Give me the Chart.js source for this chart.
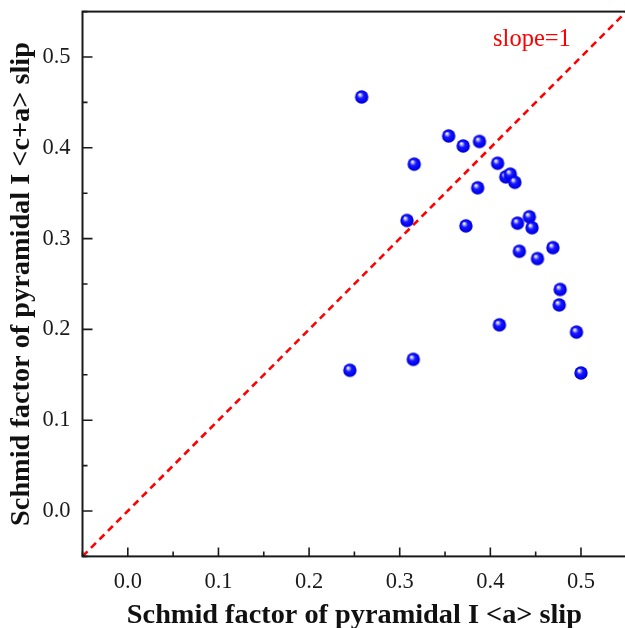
<!DOCTYPE html>
<html>
<head>
<meta charset="utf-8">
<script src="https://cdn.jsdelivr.net/npm/chart.js@4/dist/chart.umd.min.js"></script>
<style>
html,body{margin:0;padding:0;background:#fff;overflow:hidden;}
#wrap{width:634px;height:628px;position:relative;}
</style>
</head>
<body>
<div id="wrap"><canvas id="c" width="634" height="628"></canvas></div>
<script>
// ---- data ----
const xValues = [0.258,0.354,0.370,0.388,0.316,0.408,0.417,0.422,0.427,0.386,0.308,0.373,0.430,0.443,0.446,0.432,0.452,0.469,0.477,0.476,0.245,0.315,0.410,0.495,0.500];
const yValues = [0.456,0.413,0.402,0.407,0.382,0.383,0.368,0.371,0.362,0.356,0.320,0.314,0.317,0.324,0.312,0.286,0.278,0.290,0.244,0.227,0.155,0.167,0.205,0.197,0.152];
const lineX = [-0.05, 0.55];
const lineY = [-0.05, 0.55];
const xTickValues = [0.0,0.1,0.2,0.3,0.4,0.5];
const yTickValues = [0.0,0.1,0.2,0.3,0.4,0.5];
const xMinorValues = [-0.05,0.05,0.15,0.25,0.35,0.45,0.55];
const yMinorValues = [-0.05,0.05,0.15,0.25,0.35,0.45,0.55];
const xTitle = 'Schmid factor of pyramidal I <a> slip';
const yTitle = 'Schmid factor of pyramidal I <c+a> slip';
const slopeLabel = 'slope=1';
const slopeLabelPos = {x: 0.403, y: 0.512};

// sphere marker
function makeSphere(r){
  const c = document.createElement('canvas');
  const s = Math.ceil(r*2)+2;
  c.width = s; c.height = s;
  const g = c.getContext('2d');
  const cx = s/2, cy = s/2;
  const grad = g.createRadialGradient(cx-r*0.3, cy-r*0.38, r*0.05, cx, cy, r);
  grad.addColorStop(0, '#ffffff');
  grad.addColorStop(0.2, '#9a9aff');
  grad.addColorStop(0.42, '#1a1aff');
  grad.addColorStop(0.85, '#0000ee');
  grad.addColorStop(1, '#0000c4');
  g.fillStyle = grad;
  g.beginPath(); g.arc(cx, cy, r, 0, Math.PI*2); g.fill();
  return c;
}
const sphere = makeSphere(6.7);

const frameAndTicks = {
  id: 'frameAndTicks',
  afterDatasetsDraw(chart){
    const {ctx, chartArea: a, scales} = chart;
    const xs = scales.x, ys = scales.y;
    ctx.save();
    ctx.strokeStyle = '#1a1a1a';
    ctx.lineWidth = 2;
    ctx.strokeRect(a.left, a.top, a.right - a.left, a.bottom - a.top);
    ctx.lineWidth = 1.6;
    ctx.beginPath();
    xTickValues.forEach(v => { const p = xs.getPixelForValue(v); ctx.moveTo(p, a.bottom); ctx.lineTo(p, a.bottom - 9); });
    xMinorValues.forEach(v => { const p = xs.getPixelForValue(v); ctx.moveTo(p, a.bottom); ctx.lineTo(p, a.bottom - 5); });
    yTickValues.forEach(v => { const p = ys.getPixelForValue(v); ctx.moveTo(a.left, p); ctx.lineTo(a.left + 10, p); });
    yMinorValues.forEach(v => { const p = ys.getPixelForValue(v); ctx.moveTo(a.left, p); ctx.lineTo(a.left + 5, p); });
    ctx.stroke();
    ctx.fillStyle = '#ff0000';
    ctx.font = '24.5px "Liberation Serif", "Times New Roman", serif';
    ctx.textAlign = 'left';
    ctx.textBaseline = 'alphabetic';
    ctx.fillText(slopeLabel, xs.getPixelForValue(slopeLabelPos.x), ys.getPixelForValue(slopeLabelPos.y));
    ctx.restore();
  }
};

const serif = '"Liberation Serif", "Times New Roman", serif';

new Chart(document.getElementById('c'), {
  type: 'scatter',
  data: {
    datasets: [
      {
        type: 'line',
        data: lineX.map((x,i)=>({x, y: lineY[i]})),
        borderColor: '#ff0000',
        borderWidth: 2.6,
        borderDash: [7,5],
        pointRadius: 0,
        fill: false,
        order: 2
      },
      {
        data: xValues.map((x,i)=>({x, y: yValues[i]})),
        pointStyle: sphere,
        pointRadius: 6.7,
        order: 1
      }
    ]
  },
  options: {
    responsive: false,
    animation: false,
    devicePixelRatio: 1,
    clip: false,
    layout: {padding: {left: 0, top: 11.6, right: 5.5, bottom: 0}},
    plugins: {legend: {display: false}, tooltip: {enabled: false}},
    scales: {
      x: {
        type: 'linear', min: -0.05, max: 0.55,
        grid: {display: false, drawTicks: false},
        border: {display: false},
        afterBuildTicks: s => { s.ticks = xTickValues.map(v => ({value: v})); },
        afterFit: s => { s.height = 71.6; s.paddingLeft = 0; s.paddingRight = 0; },
        ticks: {
          padding: 12,
          color: '#1a1a1a',
          font: {family: serif, size: 22.5},
          callback: v => Number(v).toFixed(1)
        },
        title: {
          display: true, text: xTitle, color: '#111',
          font: {family: serif, size: 28.3, weight: 'bold', lineHeight: 0.9},
          padding: {top: 0, bottom: 0}
        }
      },
      y: {
        type: 'linear', min: -0.05, max: 0.55,
        grid: {display: false, drawTicks: false},
        border: {display: false},
        afterBuildTicks: s => { s.ticks = yTickValues.map(v => ({value: v})); },
        afterFit: s => { s.width = 82.5; s.paddingTop = 0; s.paddingBottom = 0; },
        ticks: {
          padding: 12,
          color: '#1a1a1a',
          font: {family: serif, size: 22.5},
          callback: v => Number(v).toFixed(1)
        },
        title: {
          display: true, text: yTitle, color: '#111',
          font: {family: serif, size: 28.3, weight: 'bold'},
          padding: {top: 5, bottom: 0}
        }
      }
    }
  },
  plugins: [frameAndTicks]
});
</script>
</body>
</html>
